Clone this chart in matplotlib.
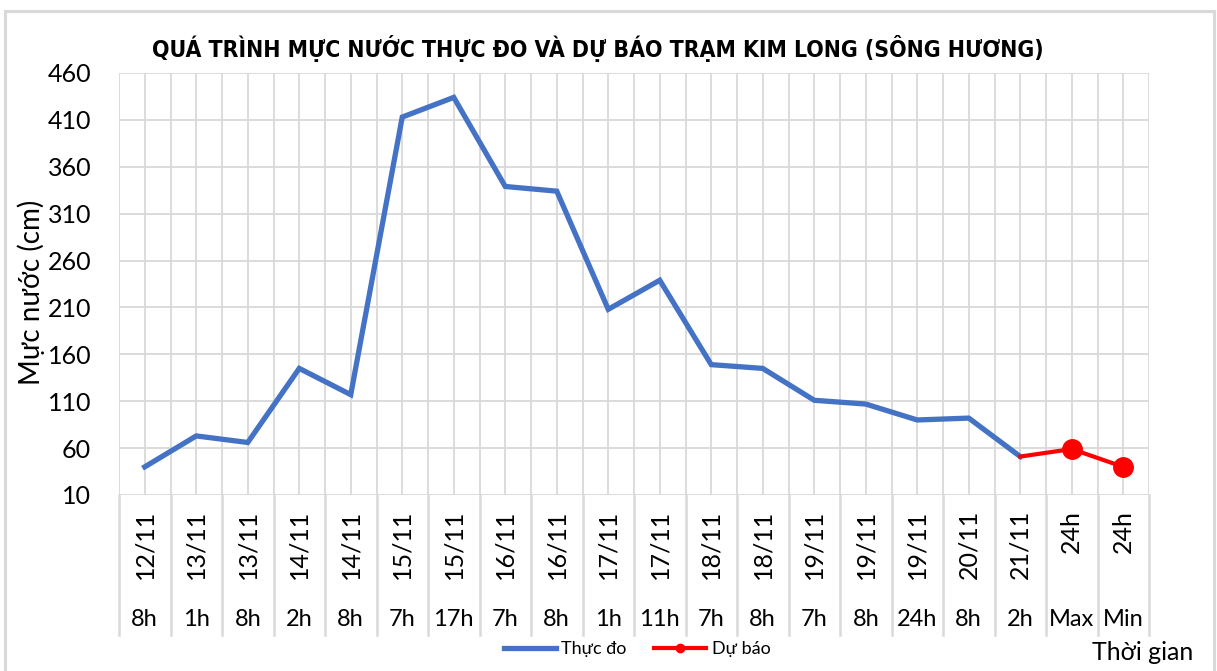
import matplotlib
matplotlib.use("Agg")
import matplotlib.pyplot as plt
from matplotlib.patches import Rectangle
import matplotlib.transforms as mtransforms

dates = ["12/11", "13/11", "13/11", "14/11", "14/11", "15/11", "15/11", "16/11", "16/11",
         "17/11", "17/11", "18/11", "18/11", "19/11", "19/11", "19/11", "20/11", "21/11",
         "24h", "24h"]
hours = ["8h", "1h", "8h", "2h", "8h", "7h", "17h", "7h", "8h", "1h", "11h", "7h", "8h",
         "7h", "8h", "24h", "8h", "2h", "Max", "Min"]
observed = [40, 73, 66, 145, 117, 413, 434, 339, 334, 208, 239, 149, 145, 111, 107, 90, 92, 51]
forecast_idx = [17, 18, 19]
forecast = [51, 59, 40]

font = ["Lato", "DejaVu Sans"]
grid_c = "#d9d9d9"

fig = plt.figure(figsize=(12.17, 6.71), dpi=100)
ax = fig.add_axes([119 / 1217, 1 - 495 / 671, 1030 / 1217, 422 / 671])

# outer chart frame
fig.patches.append(Rectangle((5 / 1217, -0.05), 1209 / 1217, 1.05 - 11 / 671,
                             transform=fig.transFigure, fill=False,
                             edgecolor=grid_c, linewidth=2.2))

n = len(hours)
ax.set_xlim(-0.5, n - 0.5)
ax.set_ylim(10, 460)
ax.set_yticks(range(10, 461, 50))
ax.set_xticks([])
for x in [i * 0.5 - 0.5 for i in range(2 * n + 1)]:
    ax.axvline(x, color=grid_c, linewidth=1.3, zorder=0)
for y in range(10, 461, 50):
    ax.axhline(y, color=grid_c, linewidth=1.3, zorder=0)
for s in ax.spines.values():
    s.set_visible(False)
ax.tick_params(axis="y", length=0, pad=20, labelsize=18)
for lab in ax.get_yticklabels():
    lab.set_family(font)

ax.plot(range(len(observed)), observed, color="#4472C4", linewidth=3.8,
        solid_joinstyle="miter", label="Thực đo", zorder=3)
ax.plot(forecast_idx, forecast, color="#FF0000", linewidth=3, marker="o",
        markersize=14, markevery=[1, 2], label="Dự báo", zorder=4)

# two-level category axis
trans = mtransforms.blended_transform_factory(ax.transData, ax.transAxes)
depth = (635 - 495) / 422
for i in range(n + 1):
    ax.plot([i - 0.5, i - 0.5], [0, -depth], transform=trans, color=grid_c,
            linewidth=1.8, clip_on=False)
for i in range(n):
    ax.text(i, -(510 - 495) / 422, dates[i], transform=trans, rotation=90,
            ha="center", va="top", fontsize=18, family=font)
    ax.text(i, -(620 - 495) / 422, hours[i], transform=trans,
            ha="center", va="center", fontsize=17, family=font)

fig.text(598 / 1217, 1 - 48 / 671, "QUÁ TRÌNH MỰC NƯỚC THỰC ĐO VÀ DỰ BÁO TRẠM KIM LONG (SÔNG HƯƠNG)",
         ha="center", va="center", fontsize=16.5, fontweight="bold",
         fontstretch="condensed", family=["DejaVu Sans"])
fig.text(31 / 1217, 1 - 292 / 671, "Mực nước (cm)", rotation=90, ha="center",
         va="center", fontsize=20, family=font)
fig.text(1143 / 1217, 1 - 653 / 671, "Thời gian", ha="center", va="center",
         fontsize=18, family=font)

leg = fig.legend(loc="center", bbox_to_anchor=(637 / 1217, 1 - 649 / 671), ncol=2,
                 frameon=False, handlelength=2.9, columnspacing=1.5,
                 handletextpad=0.3, prop={"family": font, "size": 13})
leg.legend_handles[1].set_markersize(6)

fig.savefig("out.png", dpi=100)
